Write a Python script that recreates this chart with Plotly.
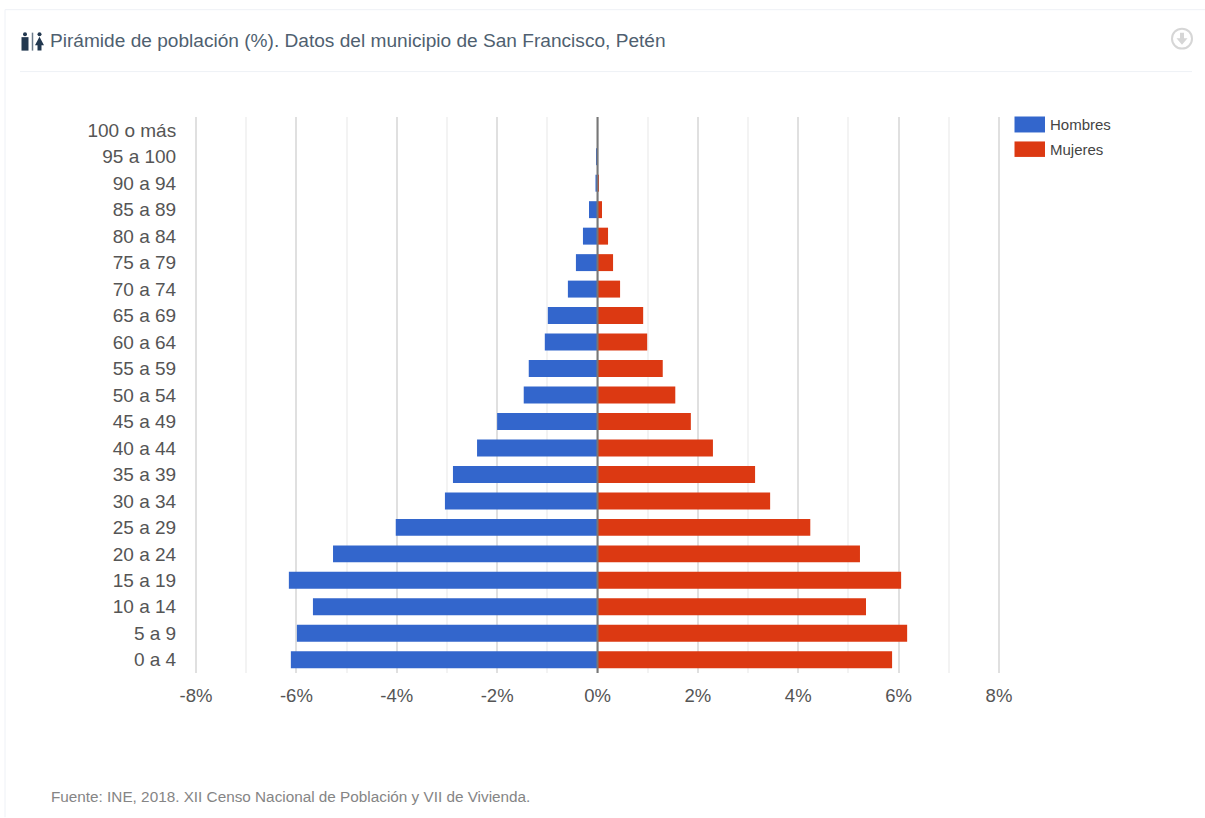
import plotly.graph_objects as go

categories = ["0 a 4", "5 a 9", "10 a 14", "15 a 19", "20 a 24", "25 a 29", "30 a 34",
              "35 a 39", "40 a 44", "45 a 49", "50 a 54", "55 a 59", "60 a 64", "65 a 69",
              "70 a 74", "75 a 79", "80 a 84", "85 a 89", "90 a 94", "95 a 100", "100 o más"]
hombres = [-6.11, -5.99, -5.67, -6.15, -5.27, -4.02, -3.04, -2.88, -2.40, -2.00, -1.47,
           -1.37, -1.05, -0.99, -0.59, -0.43, -0.29, -0.17, -0.04, -0.03, 0.0]
mujeres = [5.87, 6.17, 5.35, 6.05, 5.23, 4.24, 3.44, 3.14, 2.30, 1.86, 1.55,
           1.30, 0.99, 0.91, 0.45, 0.31, 0.21, 0.09, 0.03, 0.01, 0.0]
x_ticks = [-8, -6, -4, -2, 0, 2, 4, 6, 8]
x_labels = ["-8%", "-6%", "-4%", "-2%", "0%", "2%", "4%", "6%", "8%"]

W, H = 1205, 818
L, R, T, B = 193, 1002, 116.5, 673.5
FONT = "Liberation Sans, Arial, sans-serif"
BLUE, RED = "#3366cc", "#dc3912"


def fx(px):
    return (px - L) / (R - L)


def fy(py):
    return (B - py) / (B - T)


def page_shape(x0, y0, x1, y1, kind="line", **kw):
    return dict(type=kind, xref="paper", yref="paper", x0=fx(x0), x1=fx(x1), y0=fy(y0), y1=fy(y1), **kw)


def page_path(points, color):
    d = "M" + " L".join(f"{fx(a):.5f},{fy(b):.5f}" for a, b in points) + " Z"
    return dict(type="path", xref="paper", yref="paper", path=d, fillcolor=color, line=dict(width=0))


def page_text(px, py, text, size, color, anchor="left"):
    return dict(xref="paper", yref="paper", x=fx(px), y=fy(py), xanchor=anchor, yanchor="middle", showarrow=False,
                text=text, font=dict(family=FONT, size=size, color=color))


ICON = "#22384f"
RULE = "#eef1f6"
shapes = [
    page_shape(5, 9, 1205, 9, line=dict(color=RULE, width=1)),
    page_shape(5, 9, 5, 818, line=dict(color=RULE, width=1)),
    page_shape(20, 71, 1192, 71, line=dict(color=RULE, width=1)),
    # person icon: man
    page_shape(23, 31.5, 27, 35.5, kind="circle", fillcolor=ICON, line=dict(width=0)),
    page_shape(21.5, 36.5, 28.5, 50, kind="rect", fillcolor=ICON, line=dict(width=0)),
    # separator
    page_shape(32.5, 32, 32.5, 50, line=dict(color="#6b7b8b", width=1.5)),
    # person icon: woman
    page_shape(37.5, 31.5, 41.5, 35.5, kind="circle", fillcolor=ICON, line=dict(width=0)),
    page_path([(39.5, 36), (44, 44.5), (41.5, 44.5), (41.5, 50), (37.5, 50), (37.5, 44.5), (35, 44.5)], ICON),
    # download icon
    page_shape(1172, 28, 1192, 48, kind="circle", line=dict(color="#d6d6d6", width=2)),
    page_path([(1180, 32), (1184, 32), (1184, 37.5), (1187.5, 37.5), (1182, 44), (1176.5, 37.5), (1180, 37.5)], "#d6d6d6"),
    # legend swatches
    page_shape(1014.5, 116, 1045, 132, kind="rect", fillcolor=BLUE, line=dict(width=0)),
    page_shape(1014.5, 141, 1045, 156.5, kind="rect", fillcolor=RED, line=dict(width=0)),
    # baseline over the bars
    dict(type="line", xref="x", yref="paper", x0=0, x1=0, y0=0, y1=1, layer="above",
         line=dict(color="#777777", width=2)),
]

annotations = [
    page_text(47.5, 39.5, "Pirámide de población (%). Datos del municipio de San Francisco, Petén", 19.1, "#4f5f70"),
    page_text(49, 797, "Fuente: INE, 2018. XII Censo Nacional de Población y VII de Vivienda.", 15.3, "#858585"),
    page_text(1048, 124.5, "Hombres", 15, "#444444"),
    page_text(1048, 149, "Mujeres", 15, "#444444"),
]

fig = go.Figure()
fig.add_bar(y=categories, x=hombres, name="Hombres", orientation="h", marker=dict(color=BLUE, line=dict(width=0)))
fig.add_bar(y=categories, x=mujeres, name="Mujeres", orientation="h", marker=dict(color=RED, line=dict(width=0)))

fig.update_layout(
    width=W, height=H, autosize=False, showlegend=False,
    margin=dict(l=L, r=W - R, t=T, b=H - B, pad=0),
    paper_bgcolor="white", plot_bgcolor="white",
    barmode="relative", bargap=0.36,
    font=dict(family=FONT, color="#444444"),
    shapes=shapes, annotations=annotations,
    xaxis=dict(range=[-8.06, 8.06], tickvals=x_ticks, ticktext=x_labels, ticks="outside", ticklen=6,
               tickcolor="rgba(0,0,0,0)", showline=False,
               tickfont=dict(size=18.5, color="#555555"), showgrid=True, gridcolor="#e0e0e0", gridwidth=2,
               zeroline=False, minor=dict(dtick=1, showgrid=True, gridcolor="#f3f3f3", gridwidth=2, ticks="")),
    yaxis=dict(type="category", categoryorder="array", categoryarray=categories, ticks="outside",
               ticklen=12, tickcolor="rgba(0,0,0,0)", showline=False, showgrid=False, zeroline=False,
               tickfont=dict(size=19, color="#555555")),
)

fig.write_html("out.html", config=dict(displayModeBar=False),
               post_script="document.body.style.margin='0';")
